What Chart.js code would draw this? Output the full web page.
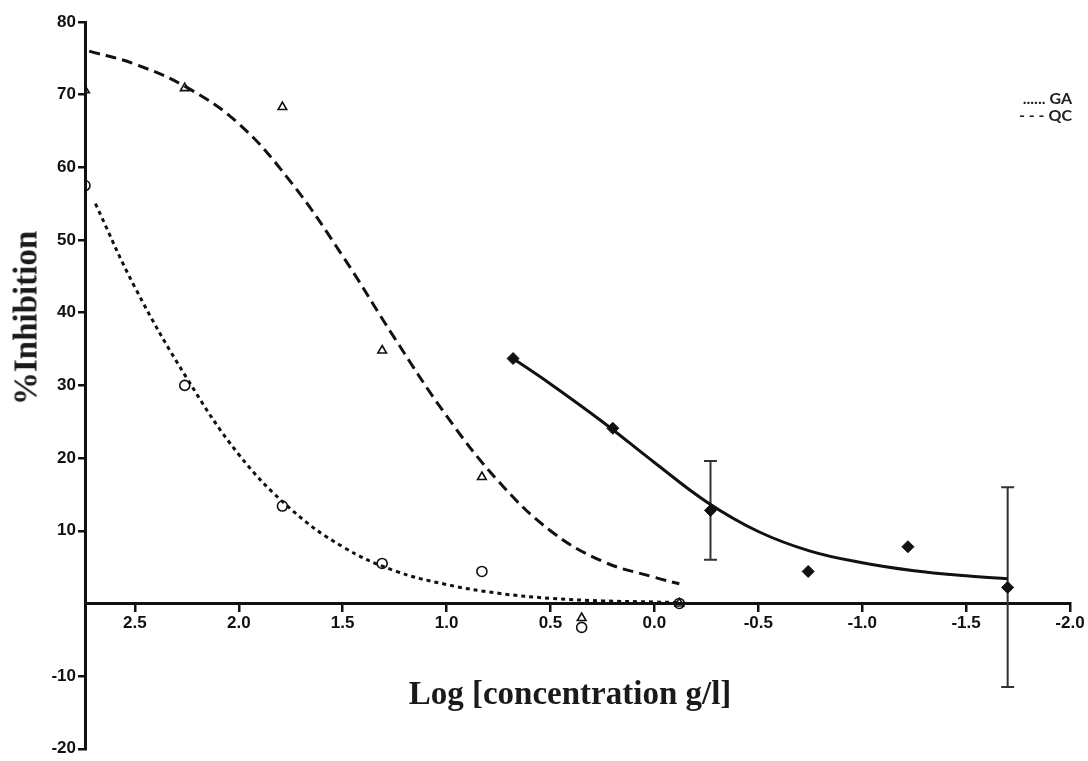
<!DOCTYPE html>
<html>
<head>
<meta charset="utf-8">
<script src="https://cdn.jsdelivr.net/npm/chart.js@4.4.1/dist/chart.umd.min.js"></script>
<style>
  html, body { margin: 0; padding: 0; background: #fff; }
  #wrap { position: relative; width: 1088px; height: 761px; overflow: hidden; background: #fff; }
  #c { position: absolute; left: 0; top: 0; }
  .ytitle { position: absolute; left: 26px; top: 318px; transform: translate(-50%, -50%) rotate(-90deg);
            font: bold 33px "Liberation Serif", "Times New Roman", serif; white-space: nowrap; color: #1a1a1a; line-height: 1; }
  .xtitle { position: absolute; left: 570px; top: 693px; transform: translate(-50%, -50%);
            font: bold 33px "Liberation Serif", "Times New Roman", serif; white-space: nowrap; color: #1a1a1a; line-height: 1; }
  .leg { position: absolute; right: 16px; font: bold 16px Lato, "Open Sans", sans-serif; color: #222; white-space: pre; line-height: 1; }
</style>
</head>
<body>
<div id="wrap">
  <canvas id="c" width="1088" height="761"></canvas>
  <div class="ytitle">%Inhibition</div>
  <div class="xtitle">Log [concentration g/l]</div>
  <div class="leg" style="top:90px">...... GA</div>
  <div class="leg" style="top:107px">- - - QC</div>
</div>
<script>
// ---- data ----
const gaX = [2.74, 2.26, 1.79, 1.31, 0.83, 0.35, -0.12];
const gaY = [57.5, 30.0, 13.4, 5.5, 4.4, -3.3, 0.0];

const qcX = [2.74, 2.26, 1.79, 1.31, 0.83, 0.35, -0.12];
const qcY = [70.6, 70.9, 68.3, 34.8, 17.4, -2.0, 0.0];

const smpX = [0.68, 0.20, -0.27, -0.74, -1.22, -1.70];
const smpY = [33.7, 24.1, 12.8, 4.4, 7.8, 2.2];
const smpErrLow  = [null, null, 6.0, null, null, -11.5];
const smpErrHigh = [null, null, 19.6, null, null, 16.0];

// fitted curves
const gaCurveX = [2.69, 2.5, 2.25, 2.0, 1.75, 1.5, 1.25, 1.0, 0.75, 0.5, 0.25, 0.0, -0.13];
const gaCurveY = [55.0, 43.5, 31.0, 20.5, 13.0, 7.8, 4.5, 2.6, 1.4, 0.7, 0.35, 0.2, 0.1];

const qcCurveX = [2.72, 2.5, 2.25, 2.0, 1.75, 1.5, 1.25, 1.0, 0.75, 0.5, 0.25, 0.0, -0.12];
const qcCurveY = [76.0, 74.2, 71.0, 66.0, 58.0, 47.8, 36.5, 25.8, 16.8, 10.0, 5.8, 3.6, 2.7];

const smpCurveX = [0.68, 0.5, 0.25, 0.0, -0.25, -0.5, -0.75, -1.0, -1.25, -1.5, -1.70];
const smpCurveY = [33.7, 30.2, 25.0, 19.4, 14.0, 9.9, 7.2, 5.6, 4.5, 3.8, 3.4];

const xTickMin = -2.0, xTickMax = 2.74, xStep = 0.5;
const yTickMin = -20, yTickMax = 80, yStep = 10;

const pts = (xs, ys) => xs.map((x, i) => ({ x: x, y: ys[i] }));

const errorBars = {
  id: 'errorBars',
  beforeDatasetsDraw(chart) {
    const { ctx, scales: { x, y } } = chart;
    ctx.save();
    ctx.strokeStyle = '#333';
    ctx.lineWidth = 2;
    smpX.forEach((vx, i) => {
      if (smpErrLow[i] == null) return;
      const px = x.getPixelForValue(vx);
      const y1 = y.getPixelForValue(smpErrLow[i]);
      const y2 = y.getPixelForValue(smpErrHigh[i]);
      ctx.beginPath();
      ctx.moveTo(px, y1); ctx.lineTo(px, y2);
      ctx.moveTo(px - 6.5, y1); ctx.lineTo(px + 6.5, y1);
      ctx.moveTo(px - 6.5, y2); ctx.lineTo(px + 6.5, y2);
      ctx.stroke();
    });
    ctx.restore();
  }
};

const tickFont = { family: '"Liberation Sans", Arial, sans-serif', size: 17, weight: 'bold' };

new Chart(document.getElementById('c'), {
  type: 'scatter',
  data: {
    datasets: [
      { label: 'GA', data: pts(gaCurveX, gaCurveY), showLine: true, borderColor: '#111', borderWidth: 3,
        borderDash: [4, 4], pointRadius: 0, tension: 0.4, fill: false },
      { label: 'QC', data: pts(qcCurveX, qcCurveY), showLine: true, borderColor: '#111', borderWidth: 3,
        borderDash: [11, 6], pointRadius: 0, tension: 0.4, fill: false },
      { label: 'Sample fit', data: pts(smpCurveX, smpCurveY), showLine: true, borderColor: '#111', borderWidth: 3,
        pointRadius: 0, tension: 0.4, fill: false },
      { label: 'GA data', data: pts(gaX, gaY), pointStyle: 'circle', pointRadius: 5, borderWidth: 1.6,
        borderColor: '#111', backgroundColor: 'rgba(255,255,255,0)' },
      { label: 'QC data', data: pts(qcX, qcY), pointStyle: 'triangle', pointRadius: 5, borderWidth: 1.6,
        borderColor: '#111', backgroundColor: 'rgba(255,255,255,0)' },
      { label: 'Sample data', data: pts(smpX, smpY), pointStyle: 'rectRot', pointRadius: 6, borderWidth: 1,
        borderColor: '#111', backgroundColor: '#111' }
    ]
  },
  options: {
    responsive: false,
    animation: false,
    layout: { padding: { left: 0, top: 22, right: 18, bottom: 0 } },
    plugins: { legend: { display: false }, tooltip: { enabled: false } },
    scales: {
      x: {
        type: 'linear',
        reverse: true,
        min: xTickMin, max: xTickMax,
        position: { y: 0 },
        afterFit(s) { s.height = 10; },
        border: { display: true, color: '#111', width: 3 },
        grid: { drawOnChartArea: false, drawTicks: true, tickLength: 7, color: '#111', lineWidth: 2.5 },
        ticks: { stepSize: xStep, includeBounds: false, maxRotation: 0, autoSkip: false, color: '#111', font: tickFont,
                 padding: 3, callback: v => v.toFixed(1) }
      },
      y: {
        type: 'linear',
        min: yTickMin, max: yTickMax,
        position: 'left',
        afterFit(s) { s.width = 85; },
        border: { display: true, color: '#111', width: 3 },
        grid: { drawOnChartArea: false, drawTicks: true, tickLength: 7, color: '#111', lineWidth: 2.5 },
        ticks: { stepSize: yStep, color: '#111', font: tickFont, padding: 2,
                 callback: v => (v === 0 ? null : String(v)) }
      }
    }
  },
  plugins: [errorBars]
});
</script>
</body>
</html>
